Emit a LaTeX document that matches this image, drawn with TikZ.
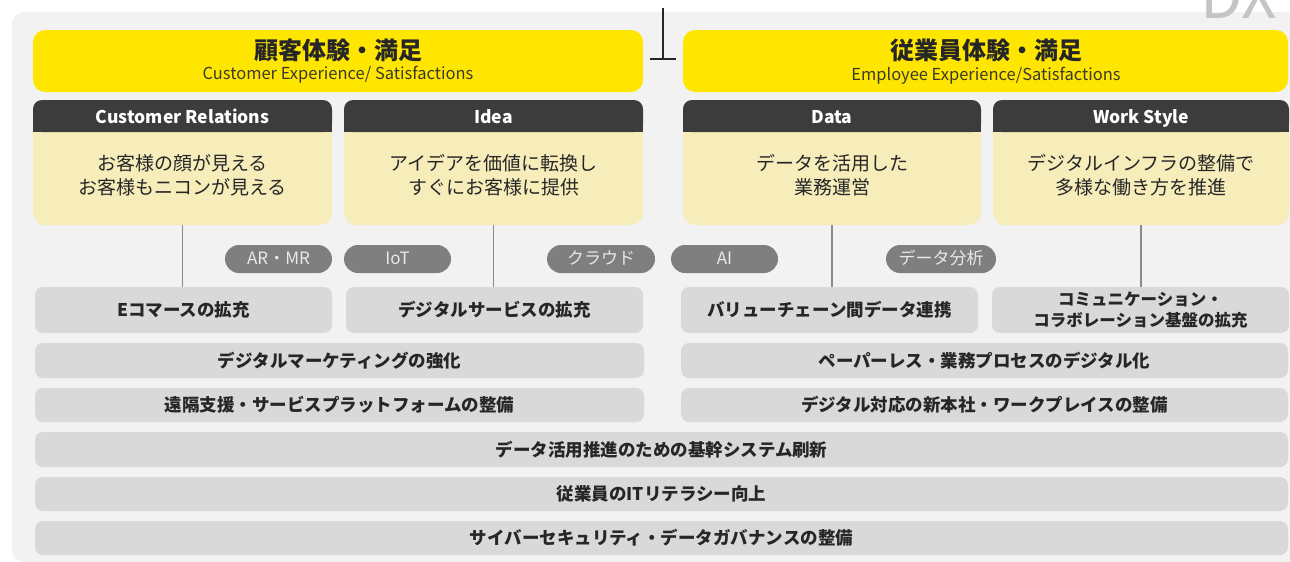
\documentclass[tikz,border=0pt]{standalone}
\usepackage{fontspec}
\setmainfont{Noto Sans CJK JP}
\usetikzlibrary{calc}
\definecolor{panel}{HTML}{F2F2F2}
\definecolor{yel}{HTML}{FFE600}
\definecolor{darkhd}{HTML}{3C3C3C}
\definecolor{lightyel}{HTML}{F6EDBB}
\definecolor{pillc}{HTML}{7F7F7F}
\definecolor{pilltxt}{HTML}{E9E9E9}
\definecolor{rowc}{HTML}{D9D9D9}
\definecolor{txt}{HTML}{262626}
\definecolor{subtxt}{HTML}{3A3A2A}
\definecolor{linec}{HTML}{8A8A8A}
\definecolor{dxc}{HTML}{C4C4C4}
\tikzset{
  base/.style={inner sep=0pt, outer sep=0pt, anchor=north west},
  yhead/.style={base, fill=yel, rounded corners=12pt},
  catbody/.style={base, fill=lightyel, rounded corners=12pt},
  cathead/.style={base, fill=darkhd, rounded corners=9pt, text=white, text height=16pt, text depth=1pt, font=\fontsize{17.5}{20}\selectfont\bfseries},
  cattext/.style={align=center, text=txt, font=\fontsize{19}{24}\selectfont},
  titletext/.style={text=txt, font=\fontsize{24}{28}\selectfont\bfseries},
  subtext/.style={text=subtxt, font=\fontsize{16.5}{19}\selectfont},
  pill/.style={base, fill=pillc, rounded corners=14pt, text=pilltxt, text height=13pt, text depth=2pt, font=\fontsize{17}{19}\selectfont, minimum height=28pt},
  rowbox/.style={base, fill=rowc, rounded corners=8pt, text=txt, align=center, font=\fontsize{17.5}{21}\selectfont\bfseries},
  conn/.style={draw=linec, line width=1.3pt},
}
\begin{document}
\begin{tikzpicture}[x=1pt,y=-1pt]
\useasboundingbox (0,0) rectangle (1290,562);
\clip (0,0) rectangle (1290,562);
% panel
\fill[panel, rounded corners=12pt] (12,12) rectangle (1320,562);
% DX watermark
\node[anchor=base west, inner sep=0pt, text=dxc, font=\fontsize{62}{62}\selectfont] (dx) at (1200,18) {DX};
% top T line
\coordinate (tt) at (663,8);
\coordinate (tb) at (663,59);
\coordinate (tl) at (650,59);
\coordinate (tr) at (676,59);
\draw[line width=1.2pt, draw=txt] (tt) -- (tb);
\draw[line width=1.2pt, draw=txt] (tl) -- (tr);
% yellow headers
\node[yhead, minimum width=610pt, minimum height=62pt] (lh) at (33,30) {};
\node[titletext] (lht) at (338,50) {顧客体験・満足};
\node[subtext] (lhs) at (338,75) {Customer Experience/ Satisfactions};
\node[yhead, minimum width=605pt, minimum height=62pt] (rh) at (683,30) {};
\node[titletext] (rht) at (986,50) {従業員体験・満足};
\node[subtext] (rhs) at (986,76) {Employee Experience/Satisfactions};
% category boxes
\foreach \nm/\x/\w/\hd in {cr/33/299/Customer Relations, id/344/299/Idea, dt/683/298/Data, wk/993/296/Work Style}{
  \node[catbody, minimum width=\w pt, minimum height=125pt] (\nm) at (\x,100) {};
  \fill[darkhd] (\x,116) rectangle ++(\w,16);
  \node[cathead, minimum width=\w pt, minimum height=32pt] (\nm h) at (\x,100) {\hd};
}
\node[cattext] (crt) at (182.5,175) {お客様の顔が見える\\お客様もニコンが見える};
\node[cattext] (idt) at (493.5,175) {アイデアを価値に転換し\\すぐにお客様に提供};
\node[cattext] (dtt) at (832,175) {データを活用した\\業務運営};
\node[cattext] (wkt) at (1141,175) {デジタルインフラの整備で\\多様な働き方を推進};
% pills
\node[pill, minimum width=107pt] (p1) at (225,245) {AR・MR};
\node[pill, minimum width=107pt] (p2) at (344,245) {IoT};
\node[pill, minimum width=108pt] (p3) at (547,245) {クラウド};
\node[pill, minimum width=107pt] (p4) at (671,245) {AI};
\node[pill, minimum width=110pt] (p5) at (886,245) {データ分析};
% row 1
\node[rowbox, minimum width=297pt, minimum height=46pt] (ec) at (35,287) {Eコマースの拡充};
\node[rowbox, minimum width=297pt, minimum height=46pt] (ds) at (346,287) {デジタルサービスの拡充};
\node[rowbox, minimum width=297pt, minimum height=46pt] (vc) at (681,287) {バリューチェーン間データ連携};
\node[rowbox, minimum width=297pt, minimum height=46pt, font=\fontsize{16.5}{21}\selectfont\bfseries] (cc) at (992,287) {コミュニケーション・\\コラボレーション基盤の拡充};
% row 2, 3
\node[rowbox, minimum width=609pt, minimum height=35pt] (dm) at (35,343) {デジタルマーケティングの強化};
\node[rowbox, minimum width=607pt, minimum height=35pt] (pl) at (681,343) {ペーパーレス・業務プロセスのデジタル化};
\node[rowbox, minimum width=609pt, minimum height=34pt] (rs) at (35,388) {遠隔支援・サービスプラットフォームの整備};
\node[rowbox, minimum width=607pt, minimum height=34pt] (ws) at (681,388) {デジタル対応の新本社・ワークプレイスの整備};
% full rows
\node[rowbox, minimum width=1253pt, minimum height=35pt] (b1) at (35,432) {データ活用推進のための基幹システム刷新};
\node[rowbox, minimum width=1253pt, minimum height=34pt] (b2) at (35,477) {従業員のITリテラシー向上};
\node[rowbox, minimum width=1253pt, minimum height=34pt] (b3) at (35,521) {サイバーセキュリティ・データガバナンスの整備};
% connectors
\draw[conn] (cr.south) -- (cr.south |- ec.north);
\draw[conn] (id.south) -- (id.south |- ds.north);
\draw[conn] (dt.south) -- (dt.south |- vc.north);
\draw[conn] (wk.south) -- (wk.south |- cc.north);
\end{tikzpicture}
\end{document}
